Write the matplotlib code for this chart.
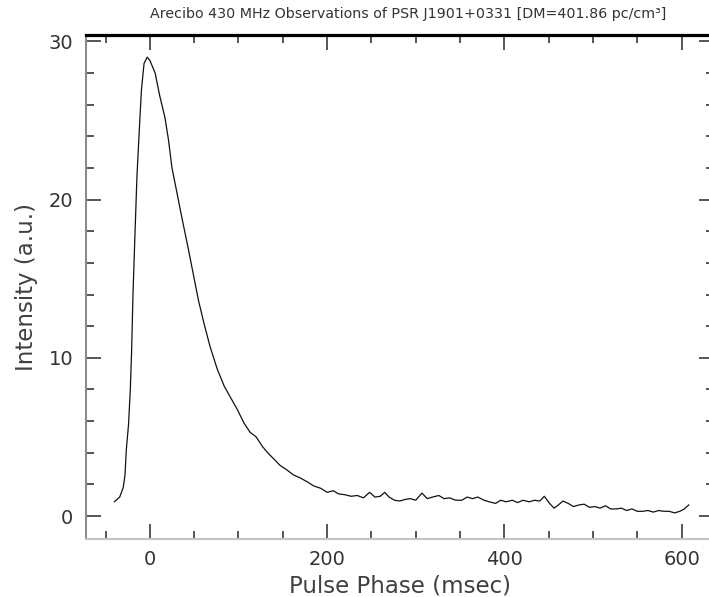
import numpy as np
import matplotlib
matplotlib.use('Agg')
import matplotlib.pyplot as plt
from matplotlib.ticker import MultipleLocator

# pulse phase (msec) and intensity (a.u.)
fase = [-40, -34, -30, -28, -26.5, -24, -22, -20.5, -19, -17, -14.5, -11.5, -9.5, -6.5,
        -3, 0, 3, 6, 11, 17, 21, 25, 30, 36, 43, 49, 55, 61, 68, 76, 84, 92, 99,
        106, 113, 120, 127, 133, 140, 147, 155, 162, 170, 178, 185, 193, 200,
        207, 213, 220, 227, 234, 241, 248, 254, 260, 265, 270, 276, 282, 288,
        294, 300, 307, 313, 319, 326, 332, 338, 345, 352, 358, 364, 370, 377,
        383, 390, 396, 402, 409, 415, 421, 428, 434, 440, 445, 451, 456, 461,
        466, 472, 478, 484, 490, 496, 502, 508, 514, 520, 526, 532, 538, 544,
        550, 556, 562, 568, 574, 580, 586, 592, 598, 603, 608]
intensidade = [0.9, 1.2, 1.8, 2.6, 4.2, 5.8, 8.0, 10.5, 14.0, 17.4, 21.5, 24.8, 26.9, 28.6,
               29.0, 28.8, 28.4, 28.0, 26.6, 25.2, 23.8, 22.0, 20.6, 18.9, 17.0, 15.3, 13.6,
               12.2, 10.7, 9.3, 8.2, 7.4, 6.7,
               5.9, 5.3, 5.0, 4.4, 4.0, 3.6, 3.2, 2.9, 2.6, 2.4, 2.15, 1.9, 1.75, 1.5,
               1.6, 1.4, 1.35, 1.25, 1.3, 1.15, 1.5, 1.2, 1.25, 1.5, 1.2, 1.0, 0.95, 1.05,
               1.1, 1.0, 1.45, 1.1, 1.2, 1.3, 1.1, 1.15, 1.0, 1.0, 1.2, 1.1, 1.2, 1.0,
               0.9, 0.8, 1.0, 0.9, 1.0, 0.85, 1.0, 0.9, 1.0, 0.95, 1.25, 0.8, 0.5, 0.7,
               0.95, 0.8, 0.6, 0.7, 0.75, 0.55, 0.6, 0.5, 0.65, 0.45, 0.45, 0.5, 0.35, 0.45,
               0.3, 0.3, 0.35, 0.25, 0.35, 0.3, 0.3, 0.2, 0.3, 0.45, 0.7]

titulo = 'Arecibo 430 MHz Observations of PSR J1901+0331 [DM=401.86 pc/cm³]'

fig = plt.figure(figsize=(7.09, 5.97), dpi=100)
# axes box in pixels: left 86, right 714 (just off the picture), top 35, bottom 539
ax = fig.add_axes([86/709, 1-539/597, (714-86)/709, (539-35)/597])

ax.plot(fase, intensidade, color='#111111', lw=0.9)

ax.set_xlim(-72, 636.5)
ax.set_ylim(-1.45, 30.4)

ax.xaxis.set_major_locator(MultipleLocator(200))
ax.xaxis.set_minor_locator(MultipleLocator(50))
ax.yaxis.set_major_locator(MultipleLocator(10))
ax.yaxis.set_minor_locator(MultipleLocator(2))

ax.tick_params(which='both', direction='in', top=True, right=True, color='#555555')
ax.tick_params(which='major', length=10.8, width=1.4, labelsize=14, labelcolor='#333333')
ax.tick_params(which='minor', length=5.8, width=1.4)
ax.tick_params(axis='x', which='major', pad=8)
ax.tick_params(axis='y', which='major', pad=9)

# spines as they look in the picture
ax.spines['top'].set_linewidth(2.3)
ax.spines['top'].set_color('black')
ax.spines['left'].set_linewidth(1.5)
ax.spines['left'].set_color('#8c8c8c')
ax.spines['bottom'].set_linewidth(1.5)
ax.spines['bottom'].set_color('#c4c4c4')
ax.spines['right'].set_visible(False)

ax.set_xlabel('Pulse Phase (msec)', fontsize=16.5, color='#404040', labelpad=4)
ax.set_ylabel('Intensity (a.u.)', fontsize=16.5, color='#404040', labelpad=8)

fig.text(408/709, 1-14/597, titulo, ha='center', va='center', fontsize=10.3, color='#333333')

plt.savefig('out.png', dpi=100)
plt.close()
